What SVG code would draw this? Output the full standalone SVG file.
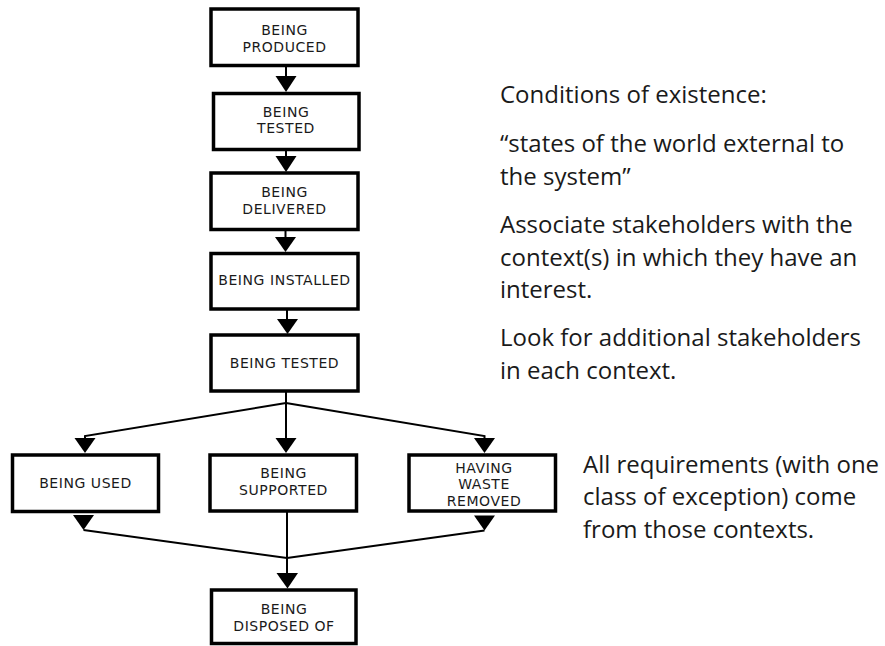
<svg xmlns="http://www.w3.org/2000/svg" width="885" height="646" viewBox="0 0 885 646">
<style>
.box{fill:#fff;stroke:#000;stroke-width:3.5}
.bt{font-family:"DejaVu Sans",Verdana,sans-serif;font-size:14px;letter-spacing:0.55px;fill:#1a1a1a;text-anchor:middle}
.ln{fill:none;stroke:#000;stroke-width:2}
.ah{fill:#000}
.rt{font-family:"Open Sans","Noto Sans",sans-serif;font-size:24px;fill:#1a1a1a}
</style>
<rect width="885" height="646" fill="#fff"/>
<g id="connectors">
<line class="ln" x1="286" y1="66" x2="286" y2="78"/>
<polygon class="ah" points="275.5,76 296.5,76 286,92"/>
<line class="ln" x1="286" y1="150" x2="286" y2="158"/>
<polygon class="ah" points="275.5,156 296.5,156 286,172"/>
<line class="ln" x1="285.5" y1="230" x2="285.5" y2="239"/>
<polygon class="ah" points="275,237 296,237 285.5,252"/>
<line class="ln" x1="287" y1="310" x2="287" y2="321"/>
<polygon class="ah" points="277,319 298,319 287.5,334"/>
<line class="ln" x1="286" y1="392" x2="286" y2="440"/>
<polyline class="ln" points="286,403 85,436 85,440"/>
<polyline class="ln" points="286,403 484.5,436 484.5,440"/>
<polygon class="ah" points="74.5,438 95.5,438 85,453"/>
<polygon class="ah" points="275.5,438 296.5,438 286,453"/>
<polygon class="ah" points="474,438 495,438 484.5,453"/>
<polygon class="ah" points="73,515 94,515 83.5,530"/>
<polygon class="ah" points="474,515.5 495,515.5 484.5,530.5"/>
<polyline class="ln" points="83.5,530 287,558"/>
<polyline class="ln" points="484.5,530.5 287,558"/>
<line class="ln" x1="287" y1="512" x2="287" y2="575"/>
<polygon class="ah" points="276.5,573 298,573 287.5,588.5"/>
</g>
<g id="n1"><rect class="box" x="211" y="9" width="147" height="56.5"/><text class="bt" x="284.5" y="35">BEING</text><text class="bt" x="284.5" y="51.5">PRODUCED</text></g>
<g id="n2"><rect class="box" x="213.5" y="93.5" width="145.5" height="56"/><text class="bt" x="286" y="116.5">BEING</text><text class="bt" x="286" y="133">TESTED</text></g>
<g id="n3"><rect class="box" x="211" y="173" width="147" height="56.5"/><text class="bt" x="284.5" y="197">BEING</text><text class="bt" x="284.5" y="214">DELIVERED</text></g>
<g id="n4"><rect class="box" x="211" y="253.5" width="147" height="55.5"/><text class="bt" x="284.5" y="285">BEING INSTALLED</text></g>
<g id="n5"><rect class="box" x="211" y="335" width="147" height="56"/><text class="bt" x="284.5" y="367.5">BEING TESTED</text></g>
<g id="n6"><rect class="box" x="12.5" y="455" width="146" height="56.5"/><text class="bt" x="85.5" y="487.5">BEING USED</text></g>
<g id="n7"><rect class="box" x="210" y="455" width="146.5" height="56"/><text class="bt" x="283.5" y="477.5">BEING</text><text class="bt" x="283.5" y="494.5">SUPPORTED</text></g>
<g id="n8"><rect class="box" x="409" y="455" width="146.5" height="56"/><text class="bt" x="484" y="472.5">HAVING</text><text class="bt" x="484" y="489.3">WASTE</text><text class="bt" x="484" y="506">REMOVED</text></g>
<g id="n9"><rect class="box" x="211.5" y="590" width="144.5" height="53.5"/><text class="bt" x="284" y="614">BEING</text><text class="bt" x="284" y="630.5">DISPOSED OF</text></g>
<g id="notes">
<text class="rt" x="500" y="103">Conditions of existence:</text>
<text class="rt" x="500" y="152">“states of the world external to</text>
<text class="rt" x="500" y="185">the system”</text>
<text class="rt" x="500" y="233">Associate stakeholders with the</text>
<text class="rt" x="500" y="265.5">context(s) in which they have an</text>
<text class="rt" x="500" y="298">interest.</text>
<text class="rt" x="500" y="346">Look for additional stakeholders</text>
<text class="rt" x="500" y="379">in each context.</text>
<text class="rt" x="583" y="472.5">All requirements (with one</text>
<text class="rt" x="583" y="505">class of exception) come</text>
<text class="rt" x="583" y="538">from those contexts.</text>
</g>
</svg>
